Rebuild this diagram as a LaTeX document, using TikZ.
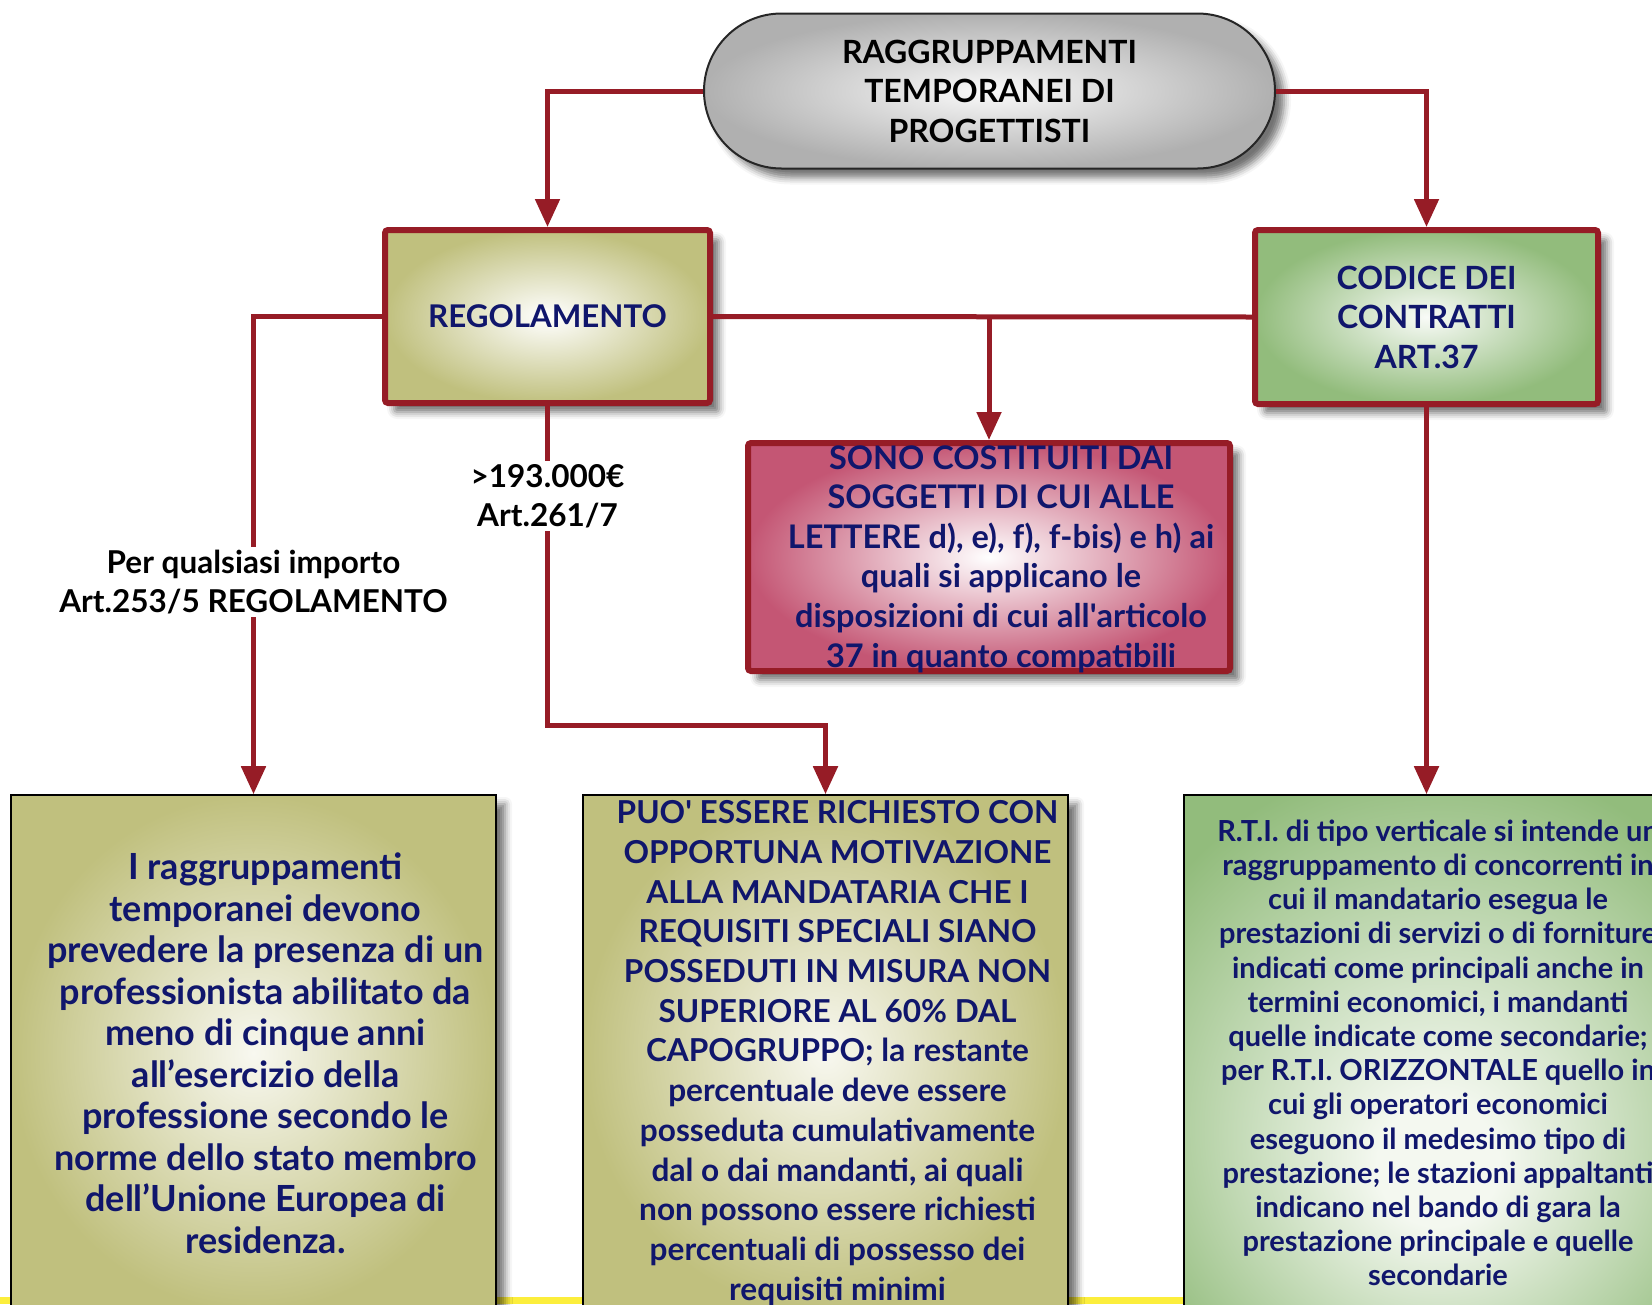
\documentclass[tikz,border=0pt]{standalone}
\usepackage{fontspec}
\setmainfont{Lato}
\usetikzlibrary{arrows.meta,shapes.misc,shadows.blur}

\definecolor{linkred}{RGB}{150,28,38}
\definecolor{inknavy}{RGB}{16,22,108}
\definecolor{olivebg}{RGB}{192,192,126}
\definecolor{olivelt}{RGB}{248,248,240}
\definecolor{greenbg}{RGB}{146,188,124}
\definecolor{greenlt}{RGB}{244,248,240}
\definecolor{pinkbg}{RGB}{196,86,116}
\definecolor{pillgray}{RGB}{176,176,176}
\definecolor{stripyellow}{RGB}{252,238,60}

\pgfdeclareradialshading{lowglow}{\pgfpoint{0bp}{-12bp}}{color(0bp)=(greenlt); color(6bp)=(greenlt); color(34bp)=(greenbg); color(60bp)=(greenbg)}

\tikzset{
  conn/.style={draw=linkred, line width=5pt, -{Triangle[length=28pt,width=24pt]}},
  plainlink/.style={draw=linkred, line width=5pt},
  boxshadow/.style={blur shadow={shadow xshift=9pt, shadow yshift=-9pt, shadow blur radius=7pt, shadow opacity=55}},
  redbox/.style={draw=linkred, line width=6pt, rounded corners=3pt, inner sep=0pt,
    align=center, text=inknavy, boxshadow},
  bigbox/.style={draw=black, line width=1.6pt, inner sep=0pt, align=center,
    text=inknavy, minimum height=516pt, boxshadow},
  bodytext/.style={inner sep=0pt, align=center, text=inknavy, xshift=12pt},
  caption/.style={fill=white, inner sep=3pt, align=center, text=black,
    font=\fontsize{31.5}{39}\selectfont\bfseries}
}

\begin{document}
\begin{tikzpicture}[x=1pt,y=-1pt]
  \useasboundingbox (0,0) rectangle (1652,1304);
  \fill[stripyellow] (0,1297) rectangle (1652,1304);

  % title and first level
  \node[rounded rectangle, draw=black!85, line width=2pt, boxshadow,
        shading=radial, inner color=white!96!gray, outer color=pillgray,
        minimum width=571pt, minimum height=155pt, align=center, inner sep=0pt,
        font=\fontsize{32}{39.5}\selectfont\bfseries]
        (top) at (989.5,91) {RAGGRUPPAMENTI\\TEMPORANEI DI\\PROGETTISTI};

  \node[redbox, shading=radial, inner color=white, outer color=olivebg,
        minimum width=325pt, minimum height=173pt,
        font=\fontsize{31.3}{39.5}\selectfont\bfseries]
        (regol) at (547.5,316.5) {REGOLAMENTO};

  \node[redbox, shading=radial, inner color=white!94!greenbg, outer color=greenbg,
        minimum width=343pt, minimum height=174pt,
        font=\fontsize{32}{39.5}\selectfont\bfseries]
        (codice) at (1426.5,317) {CODICE DEI\\CONTRATTI\\ART.37};

  \node[redbox, shading=radial, inner color=white, outer color=pinkbg,
        minimum width=482pt, minimum height=228pt] (sono) at (989,557) {};
  \node[bodytext, font=\fontsize{32.5}{39.6}\selectfont\bfseries, yshift=-2pt]
        (sonotext) at (sono.center) {SONO COSTITUITI DAI\\SOGGETTI DI CUI ALLE\\LETTERE d), e), f), f-bis) e h) ai\\quali si applicano le\\disposizioni di cui all\textquotesingle articolo\\37 in quanto compatibili};

  % bottom row
  \node[bigbox, shading=radial, inner color=olivelt, outer color=olivebg,
        minimum width=485pt] (box1) at (253.5,1053) {};
  \node[bodytext, font=\fontsize{36}{41.5}\selectfont\bfseries]
        (box1text) at (box1.center) {I raggruppamenti\\temporanei devono\\prevedere la presenza di un\\professionista abilitato da\\meno di cinque anni\\all’esercizio della\\professione secondo le\\norme dello stato membro\\dell’Unione Europea di\\residenza.};

  \node[bigbox, shading=radial, inner color=olivelt, outer color=olivebg,
        minimum width=485pt] (box2) at (825.5,1053) {};
  \node[bodytext, font=\fontsize{31.6}{39.7}\selectfont\bfseries]
        (box2text) at (box2.center) {PUO\textquotesingle{} ESSERE RICHIESTO CON\\OPPORTUNA MOTIVAZIONE\\ALLA MANDATARIA CHE I\\REQUISITI SPECIALI SIANO\\POSSEDUTI IN MISURA NON\\SUPERIORE AL 60\% DAL\\CAPOGRUPPO; la restante\\percentuale deve essere\\posseduta cumulativamente\\dal o dai mandanti, ai quali\\non possono essere richiesti\\percentuali di possesso dei\\requisiti minimi};

  \node[bigbox, shading=lowglow,
        minimum width=508pt, font=\fontsize{29}{34.2}\selectfont\bfseries]
        (box3) at (1438,1053) {R.T.I. di tipo verticale si intende un\\raggruppamento di concorrenti in\\cui il mandatario esegua le\\prestazioni di servizi o di forniture\\indicati come principali anche in\\termini economici, i mandanti\\quelle indicate come secondarie;\\per R.T.I. ORIZZONTALE quello in\\cui gli operatori economici\\eseguono il medesimo tipo di\\prestazione; le stazioni appaltanti\\indicano nel bando di gara la\\prestazione principale e quelle\\secondarie};

  % connectors
  \draw[conn] (top.west) -| (regol.north);
  \draw[conn] (top.east) -| (codice.north);
  \draw[plainlink] (regol.east) -- (codice.west);
  \draw[conn] (sono.north |- regol.east) -- (sono.north);
  \draw[conn] (regol.west) -| (box1.north);
  \coordinate (kink) at (547.5,725);
  \draw[conn] (regol.south) -- (kink) -| (box2.north);
  \draw[conn] (codice.south) -- (codice.south |- box3.north);

  % labels on the links
  \node[caption] (anyamount) at (253.5,582) {Per qualsiasi importo\\Art.253/5 REGOLAMENTO};
  \node[caption] (threshold) at (547.5,496) {>193.000€\\Art.261/7};
\end{tikzpicture}
\end{document}
